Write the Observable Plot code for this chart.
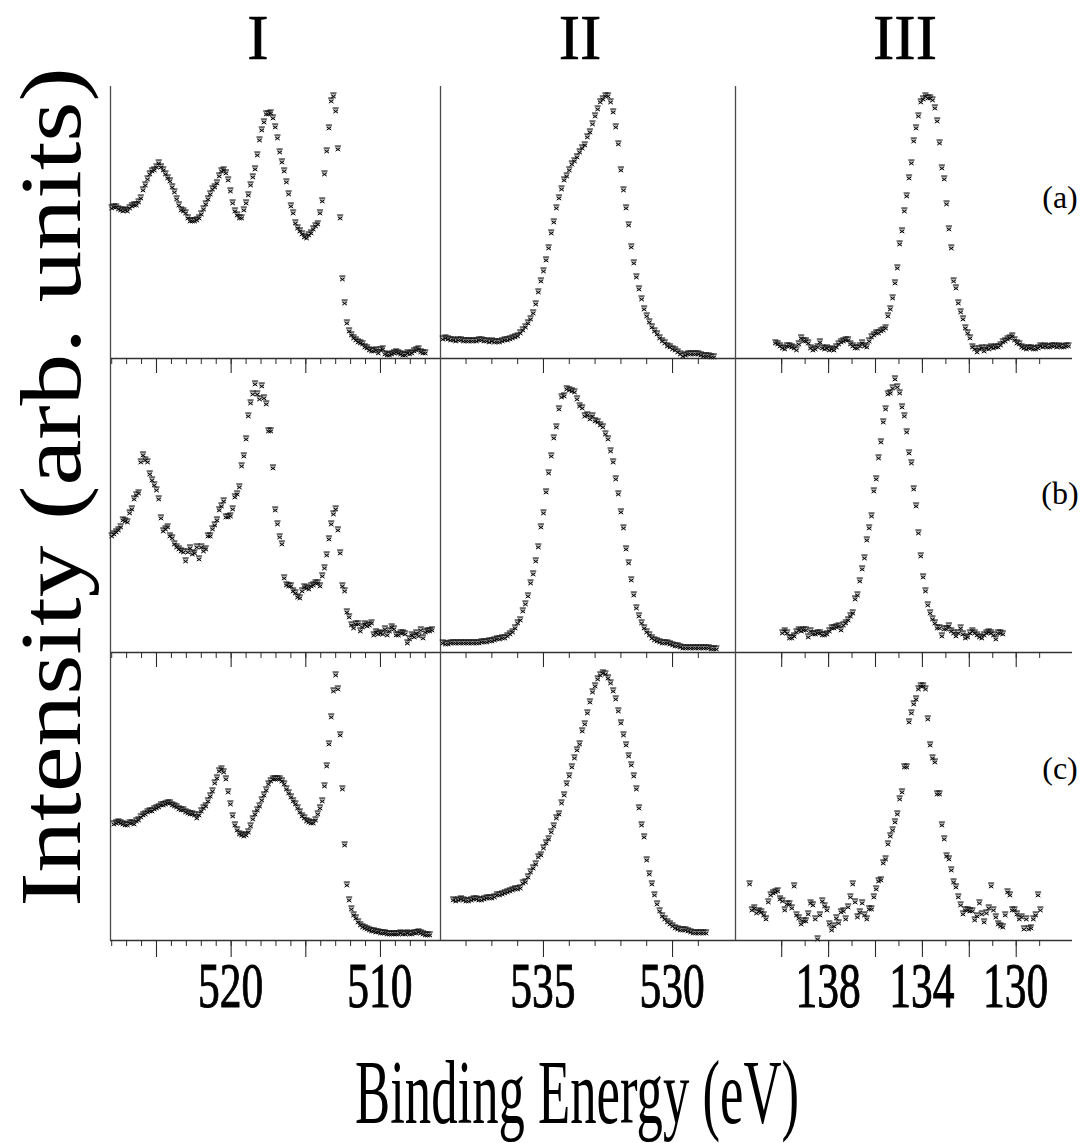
<!DOCTYPE html>
<html>
<head>
<meta charset="utf-8">
<script src="https://cdn.jsdelivr.net/npm/d3@7"></script>
<script src="https://cdn.jsdelivr.net/npm/@observablehq/plot@0.6"></script>
<style>
html, body { margin: 0; padding: 0; background: #fff; }
#fig { position: relative; width: 1085px; height: 1143px; overflow: hidden; background: #fff; }
#fig > svg { position: absolute; overflow: visible; }
</style>
</head>
<body>
<div id="fig"></div>
<script>
// ---------------- DATA (intensities, arbitrary units) ----------------
// Column I : V 2p region, grid step 0.15 eV
const Ia = [151,152,152,150,149,148,149,148,151,153,154,154,157,161,169,174,180,185,188,189,
192,196,192,189,185,181,178,172,167,160,154,149,148,146,141,138,138,138,139,141,
145,150,155,160,165,170,172,176,183,188,189,186,179,168,156,148,144,141,141,149,
156,164,174,182,190,204,219,229,237,245,245,246,241,232,221,207,197,188,177,165,
153,146,136,131,128,125,122,121,124,126,130,133,135,146,158,185,208,231,258,263,
248,210,141,80,56,36,28,24,21,19,17,16,15,12,11,9,8,8,9,6,
9,10,5,4,4,5,6,7,6,5,4,4,6,5,6,8,9,10,7,6,6];
const Ib = [117,119,121,123,126,133,132,131,140,144,154,158,160,191,198,193,191,179,173,168,
163,154,135,122,124,126,117,115,109,106,104,102,101,92,101,105,99,100,106,94,
106,102,104,117,117,124,128,133,143,147,152,136,136,137,144,156,159,166,187,197,
214,237,250,259,269,259,254,267,255,249,222,222,185,143,129,116,109,75,68,67,
67,62,60,56,55,62,66,65,64,67,68,70,70,67,77,85,98,114,129,139,
144,123,100,67,62,41,36,28,25,29,29,22,26,29,27,28,30,18,21,19,
20,19,24,18,22,26,24,18,18,20,20,19,10,14,18,16,20,17,23,15,21,22,22,23];
const Ic = [117,118,119,118,117,116,116,118,118,117,120,121,124,126,127,129,130,130,132,
133,134,136,136,137,138,138,136,135,134,132,131,131,129,128,127,127,126,123,126,
130,133,135,140,145,150,158,163,170,172,169,162,149,137,125,116,111,107,106,105,
106,109,115,122,127,131,135,141,146,151,157,160,162,162,162,162,160,157,152,148,
144,140,137,133,129,125,123,120,119,118,118,121,127,133,140,155,175,197,224,250,
266,252,206,152,96,56,41,32,26,23,19,16,14,13,12,11,10,10,9,9,
8,8,8,7,7,7,7,7,7,8,7,7,8,7,7,8,8,9,8,7,6,6,6];

// Column II : O 1s region, grid step 0.1 eV
const IIa = [20,21,20,19,19,18,19,19,18,18,18,18,18,18,19,19,18,18,17,18,
17,17,17,18,19,19,20,21,22,23,26,29,32,36,40,46,55,67,78,88,
99,111,126,137,151,161,170,179,183,189,195,198,202,207,211,214,222,227,235,243,
250,257,260,263,263,257,247,232,215,189,169,151,134,112,96,82,70,60,50,43,
37,32,28,25,21,18,16,13,12,10,9,7,5,3,4,5,5,5,5,5,4,3,3,3,2,2];
const IIb = [10,9,9,10,10,10,10,10,10,10,10,10,10,10,10,11,11,11,12,12,
13,14,14,15,15,17,19,21,25,30,33,42,49,57,70,79,92,106,126,140,
161,180,197,215,226,244,256,257,264,263,262,261,254,247,245,237,238,234,237,232,
231,228,226,219,214,202,191,174,159,141,125,104,90,73,58,45,37,30,25,21,
18,15,13,12,11,10,10,10,9,8,7,7,6,5,5,5,5,5,5,5,5,5,5,5,4,4,4];
const IIc = [41,40,41,42,41,40,40,41,42,42,41,41,42,43,43,43,44,46,46,47,
48,49,50,51,52,52,53,58,59,64,69,73,77,84,86,93,98,102,109,115,
123,127,138,146,157,165,174,183,191,197,210,217,228,239,249,255,262,266,268,267,
263,258,250,242,230,218,206,196,185,176,165,152,133,116,104,81,67,57,46,37,
30,25,22,19,17,15,13,12,11,11,11,10,9,8,8,8,8,8,8];

// Column III : P 2p region, grid step 0.1 eV
const IIIa = [16,15,13,11,10,13,13,12,11,9,15,21,18,18,16,11,9,10,12,17,
11,10,11,9,10,9,12,15,17,18,19,19,15,13,11,11,13,16,13,12,
18,22,24,26,26,28,29,31,43,50,61,76,91,115,128,148,163,181,196,218,
231,243,257,260,263,261,261,259,251,238,216,191,180,155,130,111,78,71,56,47,
40,31,26,21,12,10,7,10,11,8,11,10,12,11,12,12,14,17,18,20,
21,23,19,16,15,12,11,10,11,11,10,10,11,13,12,13,12,12,13,13,12,13,12,12,13,13];
const IIIb = [20,22,20,15,15,17,21,23,22,23,23,16,22,19,19,20,20,18,18,19,
22,25,25,26,27,23,28,30,33,37,40,54,58,72,84,95,113,125,137,162,
174,195,211,231,244,259,260,265,274,266,260,246,237,221,200,190,164,147,120,97,
76,62,48,40,34,30,25,25,17,24,24,27,22,20,17,20,25,19,15,16,
20,22,20,18,16,15,18,20,21,20,18,14,20,20,19];
const IIIc = [57,31,33,28,30,29,26,22,39,46,48,49,50,42,40,31,37,37,33,55,
26,23,17,20,20,27,38,36,22,2,26,40,35,31,17,11,15,23,18,29,
30,22,34,44,57,39,24,29,38,26,22,32,32,44,52,60,61,78,82,97,
105,111,119,127,142,149,174,174,219,228,237,242,252,255,255,252,222,196,183,179,
147,147,116,102,85,82,71,59,54,44,36,27,31,31,30,30,21,25,38,27,
19,28,33,55,31,24,17,15,14,26,49,46,31,31,27,22,24,12,22,12,13,22,26,46,31];

// first binding energy (eV) of each recorded spectrum, and the energy step of each column
const firstEnergy = {Ia: 528.0, Ib: 528.0, Ic: 527.85, IIa: 538.9, IIb: 538.9, IIc: 538.5, IIIa: 140.27, IIIb: 139.97, IIIc: 141.37};
const energyStep = {I: 0.15, II: 0.1, III: 0.1};

// axis ticks and labels
const ticksMinorI = [528,527,526,525,524,523,522,521,520,519,518,517,516,515,514,513,512,511,510,509,508,507];
const ticksMajorI = [525,520,515,510];
const ticksLabelI = [520,510];
const ticksMinorII = [538,537,536,535,534,533,532,531,530,529];
const ticksMajorII = [535,530];
const ticksLabelII = [535,530];
const ticksMinorIII = [140,139,138,137,136,135,134,133,132,131,130,129];
const ticksMajorIII = [140,138,136,134,132,130];
const ticksLabelIII = [138,134,130];

const columnTitles = ["I","II","III"];
const rowLabels = ["(a)","(b)","(c)"];
const xTitle = "Binding Energy (eV)";
const yTitle = "Intensity (arb. units)";

// ---------------- LAYOUT ----------------
const spectra = {I: [Ia, Ib, Ic], II: [IIa, IIb, IIc], III: [IIIa, IIIb, IIIc]};
const columns = [
  {key: "I",   x0: 110, x1: 440,  domain: [528.08, 505.98], minor: ticksMinorI,   major: ticksMajorI,   labels: ticksLabelI,   titleX: 258},
  {key: "II",  x0: 440, x1: 735,  domain: [538.99, 527.56], minor: ticksMinorII,  major: ticksMajorII,  labels: ticksLabelII,  titleX: 580},
  {key: "III", x0: 735, x1: 1072, domain: [141.97, 127.6],  minor: ticksMinorIII, major: ticksMajorIII, labels: ticksLabelIII, titleX: 905}
];
const rows = [
  {y0: 86,  H: 272, labelY: 208},
  {y0: 358, H: 294, labelY: 504},
  {y0: 652, H: 288, labelY: 779}
];
const rowKeys = ["a","b","c"];
const FONT = '"Liberation Serif", "Times New Roman", Times, serif';

// marker: small bar over a cross, as in the original scatter symbols
const markSymbol = {
  draw(ctx, size) {
    const r = Math.sqrt(size) / 2;
    ctx.moveTo(-r, -r * 0.8); ctx.lineTo(r, -r * 0.8);
    ctx.moveTo(-r * 0.75, -r * 0.25); ctx.lineTo(r * 0.75, r * 0.85);
    ctx.moveTo(r * 0.75, -r * 0.25); ctx.lineTo(-r * 0.75, r * 0.85);
  }
};

const fig = document.getElementById("fig");
const bottomPlots = [];

columns.forEach((col, ci) => {
  rows.forEach((row, ri) => {
    const key = col.key + rowKeys[ri];
    const values = spectra[col.key][ri];
    const step = energyStep[col.key];
    const data = values.map((v, i) => ({E: firstEnergy[key] - i * step, I: v}));
    const isBottom = ri === rows.length - 1;
    const w = col.x1 - col.x0;
    const mb = 24;
    const plot = Plot.plot({
      width: w,
      height: row.H + mb,
      marginLeft: 0, marginRight: 0, marginTop: 0, marginBottom: mb,
      x: {domain: col.domain},
      y: {domain: [0, row.H], axis: null},
      style: {background: "transparent", overflow: "visible", color: "#2a2a2a"},
      marks: [
        Plot.ruleY([0], {stroke: "#333", strokeWidth: 1.3}),
        Plot.ruleX([col.domain[0]], {stroke: "#4a4a4a", strokeWidth: 1.3}),
        Plot.axisX(col.minor, {tickSize: 6, tickFormat: () => "", label: null, strokeWidth: 1}),
        Plot.axisX(col.major, {tickSize: isBottom ? 17 : 15, tickFormat: () => "", label: null, strokeWidth: 1.1}),
        Plot.dot(data, {x: "E", y: "I", r: 2.4, fill: "#8a8a8a", fillOpacity: 0.6, stroke: "none"}),
        Plot.dot(data, {x: "E", y: "I", symbol: markSymbol, r: 3.5, stroke: "#000", strokeWidth: 1, fill: "none"})
      ]
    });
    plot.style.left = col.x0 + "px";
    plot.style.top = row.y0 + "px";
    fig.appendChild(plot);
    if (isBottom) bottomPlots[ci] = plot;
  });
});

// ---------------- TEXT OVERLAY ----------------
const svg = d3.create("svg")
  .attr("width", 1085).attr("height", 1143)
  .style("left", "0px").style("top", "0px")
  .attr("font-family", FONT).attr("fill", "#000");

columns.forEach((col, ci) => {
  svg.append("text")
    .attr("x", col.titleX).attr("y", 59)
    .attr("text-anchor", "middle").attr("font-size", 64)
    .attr("stroke", "#000").attr("stroke-width", 0.6)
    .text(columnTitles[ci]);
  const xs = bottomPlots[ci].scale("x");
  col.labels.forEach(v => {
    const px = col.x0 + xs.apply(v);
    svg.append("text")
      .attr("transform", `translate(${px},1007) scale(0.68,1)`)
      .attr("text-anchor", "middle").attr("font-size", 64)
      .attr("stroke", "#000").attr("stroke-width", 1)
      .text(String(v));
  });
});

rows.forEach((row, ri) => {
  svg.append("text")
    .attr("x", 1060).attr("y", row.labelY)
    .attr("text-anchor", "middle").attr("font-size", 32)
    .text(rowLabels[ri]);
});

svg.append("text")
  .attr("transform", "translate(80,487) rotate(-90) scale(1.2,1)")
  .attr("text-anchor", "middle").attr("font-size", 86)
  .text(yTitle);

svg.append("text")
  .attr("transform", "translate(577,1123) scale(0.573,1)")
  .attr("text-anchor", "middle").attr("font-size", 92)
  .text(xTitle);

fig.appendChild(svg.node());
</script>
</body>
</html>
